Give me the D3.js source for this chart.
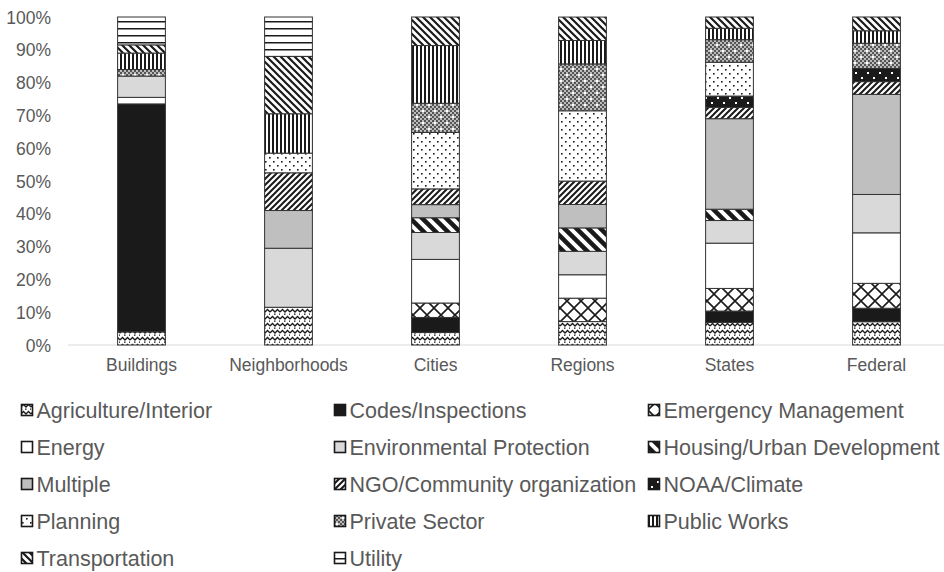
<!DOCTYPE html>
<html>
<head>
<meta charset="utf-8">
<script src="https://cdn.jsdelivr.net/npm/d3@7"></script>
<style>
  body { margin: 0; background: #fff; }
  svg { display: block; font-family: "Liberation Sans", Arial, sans-serif; }
</style>
</head>
<body>
<svg id="chart" width="944" height="572"></svg>
<script>
const categories = ["Buildings", "Neighborhoods", "Cities", "Regions", "States", "Federal"];
const seriesNames = ["Agriculture/Interior", "Codes/Inspections", "Emergency Management", "Energy",
  "Environmental Protection", "Housing/Urban Development", "Multiple", "NGO/Community organization",
  "NOAA/Climate", "Planning", "Private Sector", "Public Works", "Transportation", "Utility"];
// values in percent, per category (same order as categories)
const agriculture   = [4.0, 11.5, 3.8, 7.14, 6.9, 7.1];
const codes         = [69.5, 0, 4.6, 0, 3.45, 4.1];
const emergency     = [0, 0, 4.4, 7.14, 6.9, 7.6];
const energy        = [2.0, 0, 13.3, 7.14, 13.8, 15.4];
const envProtection = [6.5, 18.0, 8.2, 7.14, 6.9, 11.7];
const housing       = [0, 0, 4.5, 7.14, 3.45, 0];
const multiple      = [0, 11.5, 4.0, 7.14, 27.6, 30.5];
const ngo           = [0, 11.5, 4.8, 7.14, 3.45, 3.9];
const noaa          = [0, 0, 0, 0, 3.45, 4.0];
const planning      = [0, 6.0, 17.2, 21.43, 10.3, 0];
const privateSector = [2.0, 0, 8.9, 14.29, 6.9, 7.7];
const publicWorks   = [5.0, 12.0, 17.6, 7.14, 3.45, 3.8];
const transportation= [2.5, 17.5, 8.7, 7.14, 3.45, 4.2];
const utility       = [8.5, 12.0, 0, 0, 0, 0];
const yTicks = [0, 10, 20, 30, 40, 50, 60, 70, 80, 90, 100];

const seriesValues = [agriculture, codes, emergency, energy, envProtection, housing, multiple, ngo,
  noaa, planning, privateSector, publicWorks, transportation, utility];
const keys = seriesNames.map((n, i) => "s" + i);
const table = categories.map((c, ci) => {
  const row = { cat: c };
  seriesValues.forEach((arr, si) => row[keys[si]] = arr[ci]);
  return row;
});

const svg = d3.select("#chart");
const defs = svg.append("defs");
const INK = "#1a1a1a";

function pat(id, w, h, draw, bg = "#fff") {
  const p = defs.append("pattern").attr("id", id).attr("patternUnits", "userSpaceOnUse")
    .attr("width", w).attr("height", h);
  p.append("rect").attr("width", w).attr("height", h).attr("fill", bg);
  draw(p);
}
// 0 agriculture: zigzag waves
pat("p0", 10, 7, p => {
  p.append("path").attr("d", "M0,4 L2.5,1.5 L5,4 L7.5,1.5 L10,4").attr("fill", "none").attr("stroke", INK).attr("stroke-width", 1.3);
  p.append("rect").attr("x", 4).attr("y", 5.5).attr("width", 1.5).attr("height", 1.3).attr("fill", INK);
  p.append("rect").attr("x", 9).attr("y", 5.5).attr("width", 1.5).attr("height", 1.3).attr("fill", INK);
});
// 1 codes: solid black
pat("p1", 4, 4, p => {}, INK);
// 2 emergency: diamond lattice
pat("p2", 14, 14, p => {
  p.append("path").attr("d", "M0,0 L14,14 M14,0 L0,14 M-1,13 L1,15 M13,-1 L15,1").attr("stroke", INK).attr("stroke-width", 1.6);
});
// 3 energy: white
pat("p3", 4, 4, p => {}, "#ffffff");
// 4 environmental: light gray
pat("p4", 4, 4, p => {}, "#d9d9d9");
// 5 housing: wide diagonal stripes "\"
pat("p5", 12, 12, p => {
  p.append("path").attr("d", "M-3,-3 L15,15 M-3,9 L3,15 M9,-3 L15,3").attr("stroke", INK).attr("stroke-width", 4.5);
});
// 6 multiple: medium gray
pat("p6", 4, 4, p => {}, "#bfbfbf");
// 7 NGO: diagonal "/"
pat("p7", 6, 6, p => {
  p.append("path").attr("d", "M-1,7 L7,-1 M-1,1 L1,-1 M5,7 L7,5").attr("stroke", INK).attr("stroke-width", 2);
});
// 8 NOAA: black with white dots
pat("p8", 12, 10, p => {
  p.append("rect").attr("x", 3).attr("y", 2).attr("width", 2).attr("height", 2).attr("fill", "#fff");
  p.append("rect").attr("x", 9).attr("y", 7).attr("width", 2).attr("height", 2).attr("fill", "#fff");
}, INK);
// 9 planning: dots on white
pat("p9", 8, 8, p => {
  p.append("rect").attr("x", 1).attr("y", 1).attr("width", 1.6).attr("height", 1.6).attr("fill", INK);
  p.append("rect").attr("x", 5).attr("y", 5).attr("width", 1.6).attr("height", 1.6).attr("fill", INK);
});
// 10 private sector: fine checker with white dots
pat("p10", 12, 12, p => {
  for (let i = 0; i < 12; i += 2) for (let j = 0; j < 12; j += 2) {
    if (((i + j) / 2) % 2 === 0) p.append("rect").attr("x", i).attr("y", j).attr("width", 2).attr("height", 2).attr("fill", "#555");
  }
  p.append("rect").attr("x", 2).attr("y", 2).attr("width", 2).attr("height", 2).attr("fill", "#fff");
  p.append("rect").attr("x", 8).attr("y", 8).attr("width", 2).attr("height", 2).attr("fill", "#fff");
}, "#bdbdbd");
// 11 public works: vertical lines
pat("p11", 4, 4, p => {
  p.append("rect").attr("x", 0).attr("y", 0).attr("width", 2).attr("height", 4).attr("fill", INK);
});
// 12 transportation: "\" stripes
pat("p12", 7, 7, p => {
  p.append("path").attr("d", "M-1,-1 L8,8 M-1,6 L1,8 M6,-1 L8,1").attr("stroke", INK).attr("stroke-width", 2.2);
});
// 13 utility: horizontal lines
pat("p13", 4, 7, p => {
  p.append("rect").attr("x", 0).attr("y", 0).attr("width", 4).attr("height", 1.5).attr("fill", INK);
});

const x = d3.scaleBand().domain(categories).range([68, 950]).paddingInner(0.675).paddingOuter(0.3375);
const y = d3.scaleLinear().domain([0, 100]).range([345, 17]);

const stack = d3.stack().keys(keys);
const stacked = stack(table);

// axis baseline
svg.append("line").attr("x1", 68).attr("x2", 944).attr("y1", y(0)).attr("y2", y(0))
  .attr("stroke", "#d9d9d9").attr("stroke-width", 1);

// bars
const g = svg.append("g");
stacked.forEach((layer, si) => {
  g.selectAll(null).data(layer.filter(d => d[1] - d[0] > 0)).enter().append("rect")
    .attr("x", d => x(d.data.cat))
    .attr("width", x.bandwidth())
    .attr("y", d => y(d[1]))
    .attr("height", d => y(d[0]) - y(d[1]))
    .attr("fill", `url(#p${si})`)
    .attr("stroke", "#333")
    .attr("stroke-width", 1);
});

// y axis
const yAxis = d3.axisLeft(y).tickValues(yTicks).tickFormat(d => d + "%").tickSize(0).tickPadding(0);
const ya = svg.append("g").attr("transform", "translate(51,0)").call(yAxis);
ya.select(".domain").remove();
ya.selectAll("text").attr("fill", "#595959").style("font-size", "17.5px").attr("dy", "0.35em");

// x axis
const xAxis = d3.axisBottom(x).tickSize(0).tickPadding(0);
const xa = svg.append("g").attr("transform", "translate(0,359)").call(xAxis);
xa.select(".domain").remove();
xa.selectAll("text").attr("fill", "#595959").style("font-size", "17.5px").attr("dy", "0.71em");

// legend
const colX = [21, 334, 648];
const rowY = [410, 447, 484, 521, 558];
const lg = svg.append("g");
seriesNames.forEach((name, i) => {
  const cx = colX[i % 3], ry = rowY[Math.floor(i / 3)];
  const it = lg.append("g").attr("transform", `translate(${cx},${ry})`);
  it.append("rect").attr("x", 0.5).attr("y", -5.5).attr("width", 11).attr("height", 11)
    .attr("fill", `url(#p${i})`).attr("stroke", INK).attr("stroke-width", 1.6);
  it.append("text").attr("x", 15.5).attr("y", 0).attr("dy", "0.35em")
    .attr("fill", "#595959").style("font-size", "21.5px").text(name);
});
</script>
</body>
</html>
